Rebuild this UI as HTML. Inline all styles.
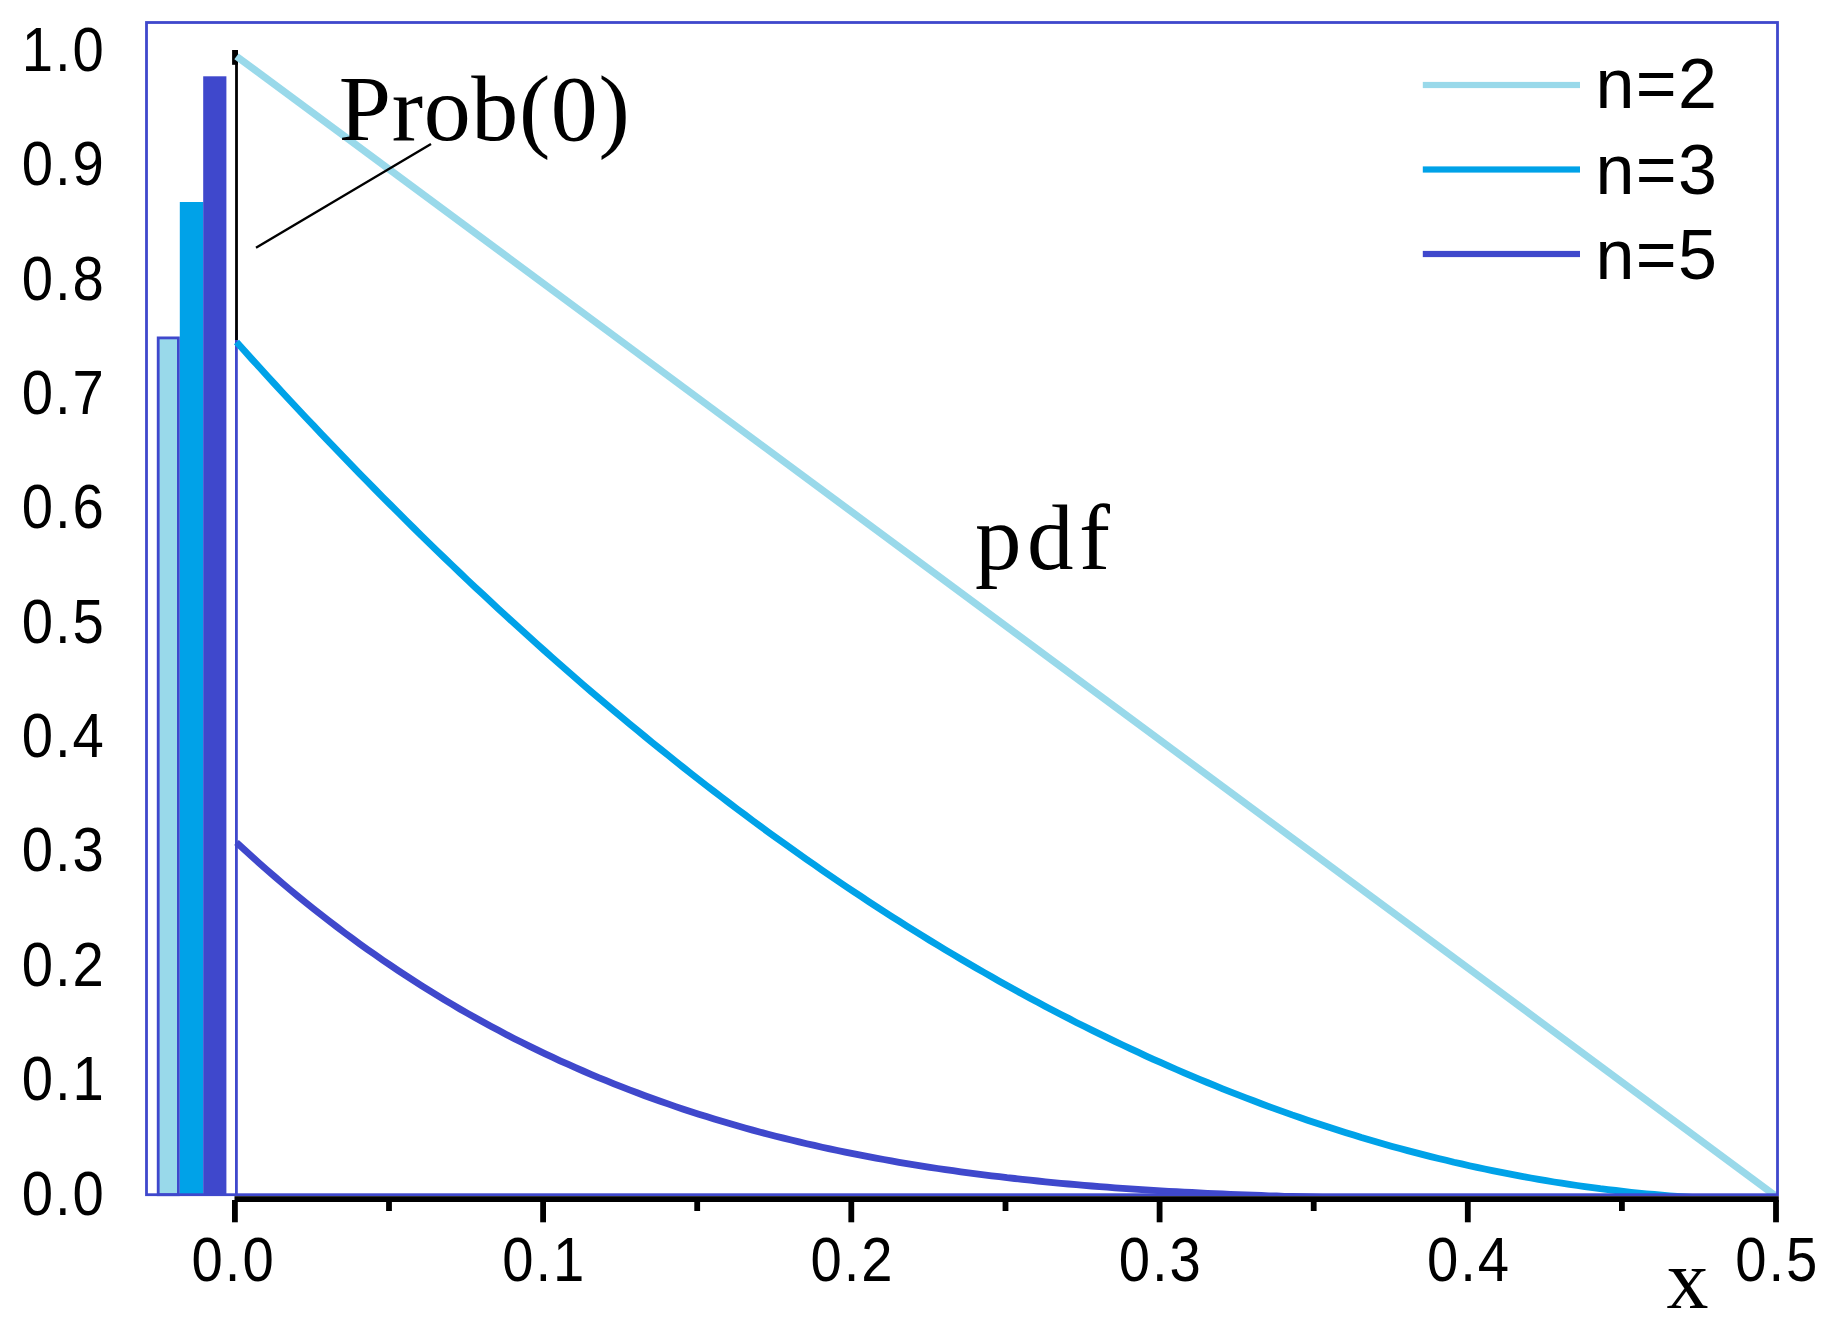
<!DOCTYPE html><html><head><meta charset="utf-8"><title>pdf chart</title>
<style>html,body{margin:0;padding:0;background:#fff;}svg{display:block;}.s{font-family:"Liberation Sans",sans-serif;font-size:62.5px;letter-spacing:2.2px;fill:#000;}.l{font-family:"Liberation Sans",sans-serif;font-size:70px;fill:#000;}.t{font-family:"Liberation Serif",serif;fill:#000;}</style></head><body>
<svg width="1837" height="1335" viewBox="0 0 1837 1335">
<rect width="1837" height="1335" fill="#fff"/>
<defs><clipPath id="c"><rect x="148" y="24" width="1628.5" height="1170"/></clipPath></defs>
<rect x="158.2" y="337.9" width="20.2" height="856.8" fill="#99D9EA" stroke="#3F48CC" stroke-width="2.8"/>
<rect x="179.8" y="202" width="23.5" height="992.5" fill="#00A2E8"/>
<rect x="203.2" y="76.3" width="23.2" height="1118.2" fill="#3F48CC"/>
<rect x="235" y="330" width="2.8" height="866" fill="#3F48CC"/>
<rect x="235.1" y="50" width="2.8" height="290" fill="#000"/>
<rect x="232.1" y="50" width="5.8" height="14.8" fill="#000"/>
<g clip-path="url(#c)" fill="none" stroke-width="6.8" stroke-linejoin="round">
<polyline stroke="#99D9EA" stroke-width="7.2" points="236.5,56.3 1777.5,1197.3"/>
<polyline stroke="#00A2E8" points="236.5,342.0 244.2,350.6 251.9,359.1 259.6,367.5 267.3,376.0 275.0,384.4 282.7,392.7 290.4,401.0 298.1,409.3 305.8,417.5 313.6,425.7 321.3,433.8 329.0,441.9 336.7,449.9 344.4,457.9 352.1,465.9 359.8,473.8 367.5,481.7 375.2,489.5 382.9,497.3 390.6,505.0 398.3,512.7 406.0,520.4 413.7,528.0 421.4,535.6 429.1,543.1 436.8,550.6 444.5,558.0 452.2,565.4 459.9,572.8 467.6,580.1 475.4,587.4 483.1,594.6 490.8,601.8 498.5,608.9 506.2,616.0 513.9,623.1 521.6,630.1 529.3,637.1 537.0,644.0 544.7,650.9 552.4,657.7 560.1,664.5 567.8,671.3 575.5,678.0 583.2,684.7 590.9,691.3 598.6,697.9 606.3,704.4 614.0,710.9 621.8,717.4 629.5,723.8 637.2,730.2 644.9,736.5 652.6,742.8 660.3,749.0 668.0,755.2 675.7,761.4 683.4,767.5 691.1,773.6 698.8,779.6 706.5,785.6 714.2,791.5 721.9,797.4 729.6,803.3 737.3,809.1 745.0,814.8 752.7,820.6 760.4,826.3 768.1,831.9 775.8,837.5 783.6,843.1 791.3,848.6 799.0,854.0 806.7,859.5 814.4,864.8 822.1,870.2 829.8,875.5 837.5,880.7 845.2,886.0 852.9,891.1 860.6,896.2 868.3,901.3 876.0,906.4 883.7,911.4 891.4,916.3 899.1,921.2 906.8,926.1 914.5,930.9 922.2,935.7 930.0,940.5 937.7,945.2 945.4,949.8 953.1,954.4 960.8,959.0 968.5,963.5 976.2,968.0 983.9,972.4 991.6,976.8 999.3,981.2 1007.0,985.5 1014.7,989.8 1022.4,994.0 1030.1,998.2 1037.8,1002.3 1045.5,1006.4 1053.2,1010.5 1060.9,1014.5 1068.6,1018.4 1076.3,1022.4 1084.1,1026.3 1091.8,1030.1 1099.5,1033.9 1107.2,1037.6 1114.9,1041.4 1122.6,1045.0 1130.3,1048.6 1138.0,1052.2 1145.7,1055.8 1153.4,1059.3 1161.1,1062.7 1168.8,1066.1 1176.5,1069.5 1184.2,1072.8 1191.9,1076.1 1199.6,1079.3 1207.3,1082.5 1215.0,1085.7 1222.7,1088.8 1230.4,1091.9 1238.2,1094.9 1245.9,1097.9 1253.6,1100.8 1261.3,1103.7 1269.0,1106.6 1276.7,1109.4 1284.4,1112.1 1292.1,1114.9 1299.8,1117.5 1307.5,1120.2 1315.2,1122.8 1322.9,1125.3 1330.6,1127.8 1338.3,1130.3 1346.0,1132.7 1353.7,1135.1 1361.4,1137.5 1369.1,1139.7 1376.8,1142.0 1384.5,1144.2 1392.2,1146.4 1400.0,1148.5 1407.7,1150.6 1415.4,1152.6 1423.1,1154.6 1430.8,1156.6 1438.5,1158.5 1446.2,1160.3 1453.9,1162.2 1461.6,1163.9 1469.3,1165.7 1477.0,1167.4 1484.7,1169.0 1492.4,1170.6 1500.1,1172.2 1507.8,1173.7 1515.5,1175.2 1523.2,1176.6 1530.9,1178.0 1538.6,1179.4 1546.3,1180.7 1554.1,1182.0 1561.8,1183.2 1569.5,1184.4 1577.2,1185.5 1584.9,1186.6 1592.6,1187.6 1600.3,1188.7 1608.0,1189.6 1615.7,1190.5 1623.4,1191.4 1631.1,1192.3 1638.8,1193.1 1646.5,1193.8 1654.2,1194.5 1661.9,1195.2 1669.6,1195.8 1677.3,1196.4 1685.0,1196.9 1692.7,1197.4 1700.4,1197.9 1708.2,1198.3 1715.9,1198.6 1723.6,1198.9 1731.3,1199.2 1739.0,1199.5 1746.7,1199.7 1754.4,1199.8 1762.1,1199.9 1769.8,1200.0 1777.5,1200.0"/>
<polyline stroke="#3F48CC" points="236.5,842.5 244.2,849.6 251.9,856.6 259.6,863.5 267.3,870.3 275.0,876.9 282.7,883.5 290.4,890.0 298.1,896.4 305.8,902.6 313.6,908.8 321.3,914.9 329.0,920.9 336.7,926.8 344.4,932.6 352.1,938.3 359.8,943.9 367.5,949.4 375.2,954.8 382.9,960.2 390.6,965.4 398.3,970.6 406.0,975.7 413.7,980.7 421.4,985.6 429.1,990.4 436.8,995.2 444.5,999.9 452.2,1004.4 459.9,1009.0 467.6,1013.4 475.4,1017.7 483.1,1022.0 490.8,1026.2 498.5,1030.3 506.2,1034.4 513.9,1038.4 521.6,1042.3 529.3,1046.1 537.0,1049.9 544.7,1053.6 552.4,1057.2 560.1,1060.8 567.8,1064.2 575.5,1067.7 583.2,1071.0 590.9,1074.3 598.6,1077.6 606.3,1080.7 614.0,1083.8 621.8,1086.9 629.5,1089.9 637.2,1092.8 644.9,1095.7 652.6,1098.5 660.3,1101.2 668.0,1103.9 675.7,1106.6 683.4,1109.2 691.1,1111.7 698.8,1114.2 706.5,1116.6 714.2,1119.0 721.9,1121.3 729.6,1123.6 737.3,1125.8 745.0,1128.0 752.7,1130.1 760.4,1132.2 768.1,1134.2 775.8,1136.2 783.6,1138.1 791.3,1140.0 799.0,1141.9 806.7,1143.7 814.4,1145.4 822.1,1147.2 829.8,1148.9 837.5,1150.5 845.2,1152.1 852.9,1153.7 860.6,1155.2 868.3,1156.7 876.0,1158.1 883.7,1159.5 891.4,1160.9 899.1,1162.3 906.8,1163.6 914.5,1164.8 922.2,1166.1 930.0,1167.3 937.7,1168.5 945.4,1169.6 953.1,1170.7 960.8,1171.8 968.5,1172.8 976.2,1173.9 983.9,1174.9 991.6,1175.8 999.3,1176.7 1007.0,1177.7 1014.7,1178.5 1022.4,1179.4 1030.1,1180.2 1037.8,1181.0 1045.5,1181.8 1053.2,1182.6 1060.9,1183.3 1068.6,1184.0 1076.3,1184.7 1084.1,1185.3 1091.8,1186.0 1099.5,1186.6 1107.2,1187.2 1114.9,1187.8 1122.6,1188.3 1130.3,1188.9 1138.0,1189.4 1145.7,1189.9 1153.4,1190.4 1161.1,1190.8 1168.8,1191.3 1176.5,1191.7 1184.2,1192.1 1191.9,1192.5 1199.6,1192.9 1207.3,1193.3 1215.0,1193.7 1222.7,1194.0 1230.4,1194.3 1238.2,1194.6 1245.9,1194.9 1253.6,1195.2 1261.3,1195.5 1269.0,1195.8 1276.7,1196.0 1284.4,1196.3 1292.1,1196.5 1299.8,1196.7 1307.5,1196.9 1315.2,1197.1 1322.9,1197.3 1330.6,1197.5 1338.3,1197.6 1346.0,1197.8 1353.7,1198.0 1361.4,1198.1 1369.1,1198.2 1376.8,1198.4 1384.5,1198.5 1392.2,1198.6 1400.0,1198.7 1407.7,1198.8 1415.4,1198.9 1423.1,1199.0 1430.8,1199.1 1438.5,1199.2 1446.2,1199.2 1453.9,1199.3 1461.6,1199.4 1469.3,1199.4 1477.0,1199.5 1484.7,1199.5 1492.4,1199.6 1500.1,1199.6 1507.8,1199.7 1515.5,1199.7 1523.2,1199.7 1530.9,1199.8 1538.6,1199.8 1546.3,1199.8 1554.1,1199.8 1561.8,1199.9 1569.5,1199.9 1577.2,1199.9 1584.9,1199.9 1592.6,1199.9 1600.3,1199.9 1608.0,1199.9 1615.7,1200.0 1623.4,1200.0 1631.1,1200.0 1638.8,1200.0 1646.5,1200.0 1654.2,1200.0 1661.9,1200.0 1669.6,1200.0 1677.3,1200.0 1685.0,1200.0 1692.7,1200.0 1700.4,1200.0 1708.2,1200.0 1715.9,1200.0 1723.6,1200.0 1731.3,1200.0 1739.0,1200.0 1746.7,1200.0 1754.4,1200.0 1762.1,1200.0 1769.8,1200.0 1777.5,1200.0"/>
</g>
<rect x="146.5" y="22.5" width="1631" height="1172.2" fill="none" stroke="#3F48CC" stroke-width="2.8"/>
<rect x="234.5" y="1196.2" width="1544.3" height="5.8" fill="#000"/>
<rect x="232.0" y="1200" width="5.8" height="22.3" fill="#000"/>
<rect x="386.1" y="1200" width="5.8" height="11" fill="#000"/>
<rect x="540.2" y="1200" width="5.8" height="22.3" fill="#000"/>
<rect x="694.3" y="1200" width="5.8" height="11" fill="#000"/>
<rect x="848.4" y="1200" width="5.8" height="22.3" fill="#000"/>
<rect x="1002.6" y="1200" width="5.8" height="11" fill="#000"/>
<rect x="1156.7" y="1200" width="5.8" height="22.3" fill="#000"/>
<rect x="1310.8" y="1200" width="5.8" height="11" fill="#000"/>
<rect x="1464.9" y="1200" width="5.8" height="22.3" fill="#000"/>
<rect x="1619.0" y="1200" width="5.8" height="11" fill="#000"/>
<rect x="1773.1" y="1200" width="5.8" height="22.3" fill="#000"/>
<text class="s" transform="translate(233.6,1281.3) scale(0.9,1)" text-anchor="middle">0.0</text>
<text class="s" transform="translate(544.3,1281.3) scale(0.9,1)" text-anchor="middle">0.1</text>
<text class="s" transform="translate(852.5,1281.3) scale(0.9,1)" text-anchor="middle">0.2</text>
<text class="s" transform="translate(1160.8,1281.3) scale(0.9,1)" text-anchor="middle">0.3</text>
<text class="s" transform="translate(1469.0,1281.3) scale(0.9,1)" text-anchor="middle">0.4</text>
<text class="s" transform="translate(1777.2,1281.3) scale(0.9,1)" text-anchor="middle">0.5</text>
<text class="s" transform="translate(105.8,1214.5) scale(0.9,1)" text-anchor="end">0.0</text>
<text class="s" transform="translate(105.8,1100.1) scale(0.9,1)" text-anchor="end">0.1</text>
<text class="s" transform="translate(105.8,985.7) scale(0.9,1)" text-anchor="end">0.2</text>
<text class="s" transform="translate(105.8,871.4) scale(0.9,1)" text-anchor="end">0.3</text>
<text class="s" transform="translate(105.8,757.0) scale(0.9,1)" text-anchor="end">0.4</text>
<text class="s" transform="translate(105.8,642.6) scale(0.9,1)" text-anchor="end">0.5</text>
<text class="s" transform="translate(105.8,528.2) scale(0.9,1)" text-anchor="end">0.6</text>
<text class="s" transform="translate(105.8,413.8) scale(0.9,1)" text-anchor="end">0.7</text>
<text class="s" transform="translate(105.8,299.5) scale(0.9,1)" text-anchor="end">0.8</text>
<text class="s" transform="translate(105.8,185.1) scale(0.9,1)" text-anchor="end">0.9</text>
<text class="s" transform="translate(105.8,70.7) scale(0.9,1)" text-anchor="end">1.0</text>
<rect x="1422.8" y="81.9" width="157.2" height="6.2" fill="#99D9EA"/>
<text class="l" x="1595.4" y="108.2" textLength="121.5" lengthAdjust="spacing">n=2</text>
<rect x="1422.8" y="166.4" width="157.2" height="6.2" fill="#00A2E8"/>
<text class="l" x="1595.4" y="193.8" textLength="121.5" lengthAdjust="spacing">n=3</text>
<rect x="1422.8" y="250.9" width="157.2" height="6.2" fill="#3F48CC"/>
<text class="l" x="1595.4" y="279.4" textLength="121.5" lengthAdjust="spacing">n=5</text>
<line x1="256" y1="247.7" x2="431" y2="144" stroke="#000" stroke-width="2.4"/>
<text class="t" x="338.8" y="140.2" font-size="94" textLength="291" lengthAdjust="spacing">Prob(0)</text>
<text class="t" x="975" y="569.2" font-size="93" letter-spacing="5.5">pdf</text>
<text class="t" x="1666.5" y="1307.7" font-size="84">x</text>
</svg></body></html>
